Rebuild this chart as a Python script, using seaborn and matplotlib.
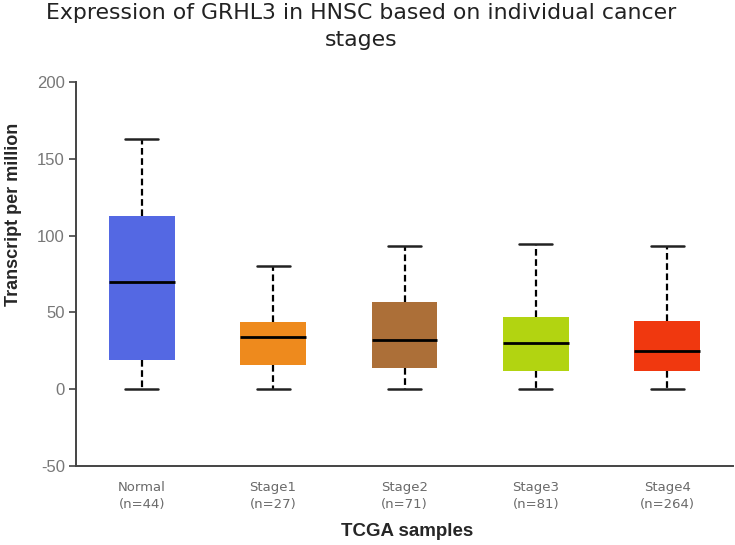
import numpy as np
import pandas as pd
import matplotlib.pyplot as plt
import seaborn as sns

# five-number summaries (TPM)
groups = ["Normal", "Stage1", "Stage2", "Stage3", "Stage4"]
n_samples = [44, 27, 71, 81, 264]
whisker_low = [0.3, 0.2, 0.2, 0.2, 0.2]
q1 = [19.0, 15.5, 14.0, 12.0, 12.0]
median = [70.0, 34.0, 32.0, 30.0, 25.0]
q3 = [112.5, 44.0, 56.5, 47.0, 44.5]
whisker_high = [163.0, 80.0, 93.0, 94.5, 93.0]
box_colors = ["#5468E3", "#EE8A1D", "#AC6F38", "#B2D411", "#F0380F"]

# long table: the 5 summary values per group give back the same box
rows = []
for g, a, b, c, d, e in zip(groups, whisker_low, q1, median, q3, whisker_high):
    for v in (a, b, c, d, e):
        rows.append((g, v))
df = pd.DataFrame(rows, columns=["group", "tpm"])

sns.set_style("ticks")
plt.rcParams["font.family"] = ["Liberation Sans", "DejaVu Sans"]
plt.rcParams["axes.unicode_minus"] = False

fig = plt.figure(figsize=(7.35, 5.45), dpi=100)
ax = fig.add_axes([76 / 735, 1 - 466 / 545, 657 / 735, 384 / 545])

sns.boxplot(data=df, x="group", y="tpm", hue="group", palette=box_colors,
            order=groups, width=0.5, whis=np.inf, showfliers=False,
            saturation=1, legend=False, ax=ax,
            boxprops=dict(linewidth=0),
            medianprops=dict(color="black", linewidth=2),
            whiskerprops=dict(color="black", linewidth=1.6, linestyle=(0, (3, 1.6))),
            capprops=dict(color="#222222", linewidth=1.8))

ax.set_xlim(-0.5, 4.5)
ax.set_ylim(-50, 200)
ax.set_yticks([-50, 0, 50, 100, 150, 200])
sns.despine(ax=ax)
for s in ("left", "bottom"):
    ax.spines[s].set_color("#444444")
    ax.spines[s].set_linewidth(1.4)

ax.tick_params(axis="y", length=5, width=1.2, color="#444444",
               labelsize=12, labelcolor="#777777", pad=3)
ax.tick_params(axis="x", length=0, pad=11)
ax.set_xticks(range(len(groups)))
ax.set_xticklabels([f"{g}\n(n={n})" for g, n in zip(groups, n_samples)],
                   fontsize=9.5, color="#6a6a6a", family="DejaVu Sans",
                   linespacing=1.4)

ax.set_xlabel("")
ax.set_ylabel("")
fig.text(0.019, 1 - 214 / 545, "Transcript per million", rotation=90,
         ha="center", va="center", fontsize=13, fontweight="bold")
fig.text(407 / 735, 1 - 532 / 545, "TCGA samples", ha="center", va="center",
         fontsize=13.5, fontweight="bold")
fig.text(361 / 735, 1 - 3 / 545,
         "Expression of GRHL3 in HNSC based on individual cancer\nstages",
         ha="center", va="top", fontsize=15.8, color="#222222",
         family="DejaVu Sans", linespacing=1.45)

fig.savefig("out.png", dpi=100)
